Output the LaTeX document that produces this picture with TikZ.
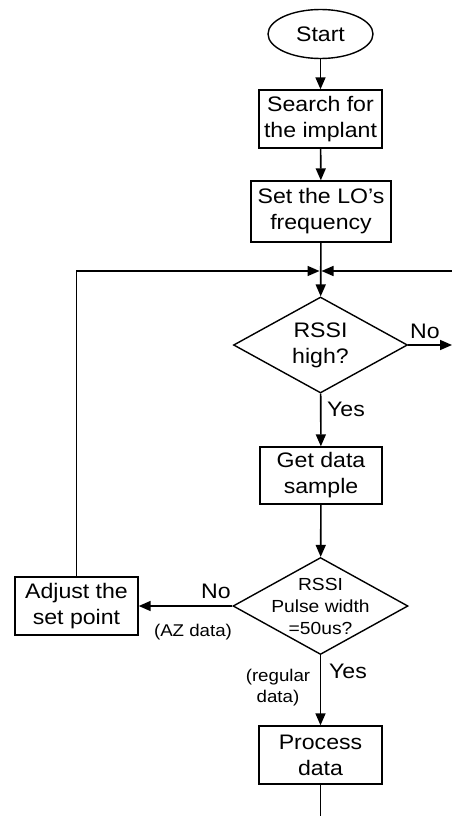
\documentclass[tikz,border=0pt]{standalone}
\usepackage{fontspec}
\setmainfont{Liberation Sans}[FakeStretch=1.1]
\usetikzlibrary{shapes.geometric,arrows.meta}
\begin{document}
\begin{tikzpicture}[x=1pt,y=-1pt,
  line width=1.6pt,
  >={Triangle[length=12pt,width=10pt]},
  txt/.style={font=\fontsize{21}{26}\selectfont, align=center},
  boxnode/.style={draw, rectangle, txt, inner sep=0pt, line width=1.4pt},
  terminal/.style={draw, ellipse, txt, inner sep=0pt, line width=1.4pt, minimum width=105pt, minimum height=49pt},
  decision/.style={draw, diamond, inner sep=0pt, line width=1.4pt},
  dtext/.style={font=\fontsize{17.5}{22}\selectfont, align=center},
  small/.style={font=\fontsize{17}{21}\selectfont, align=center},
  lbl/.style={font=\fontsize{21}{24}\selectfont}]
\useasboundingbox (0,0) rectangle (452,816);

% main column
\node[terminal] (start) at (320.5,34) {Start};
\node[boxnode, minimum width=123pt, minimum height=58pt] (search) at (320.5,119) {Search for\\the implant};
\node[boxnode, minimum width=140pt, minimum height=61pt] (setlo) at (321,211.5) {Set the LO's\\frequency};
\coordinate (J) at (320.5,271);
\node[decision, minimum width=174pt, minimum height=96pt] (d1) at (320.5,345) {};
\node[txt] at (d1) {RSSI\\high?};
\node[boxnode, minimum width=122pt, minimum height=57pt] (getdata) at (321,475.5) {Get data\\sample};
\node[decision, minimum width=175pt, minimum height=97pt] (d2) at (320.5,606) {};
\node[dtext] at (d2) {RSSI\\Pulse width\\=50us?};
\node[boxnode, minimum width=123pt, minimum height=58pt] (adjust) at (76.5,606) {Adjust the\\set point};
\node[boxnode, minimum width=123pt, minimum height=58pt] (process) at (320.5,755) {Process\\data};

% loose ends
\coordinate (LT) at (76.5,271);
\coordinate (RT) at (452,271);
\coordinate (RN) at (452,345);
\coordinate (BT) at (320.5,816);

% connectors
\draw[->] (start) -- (search);
\draw[->] (search) -- (setlo);
\draw[->] (setlo) -- (d1);
\draw[->] (adjust.north) -- (LT) -- ([xshift=-1pt]J);
\draw[->] (RT) -- ([xshift=1pt]J);
\draw[->] (d1.east) -- (RN);
\draw[->] (d1) -- (getdata);
\draw[->] (getdata) -- (d2);
\draw[->] (d2.west) -- (adjust.east);
\draw[->] (d2) -- (process);
\draw (process) -- (BT);

% branch labels
\node[lbl] at (425,331) {No};
\node[lbl] at (346,409) {Yes};
\node[lbl] at (216,591) {No};
\node[small] at (193,632) {(AZ data)};
\node[lbl] at (348,671) {Yes};
\node[small] at (278,688) {(regular\\data)};
\end{tikzpicture}
\end{document}
